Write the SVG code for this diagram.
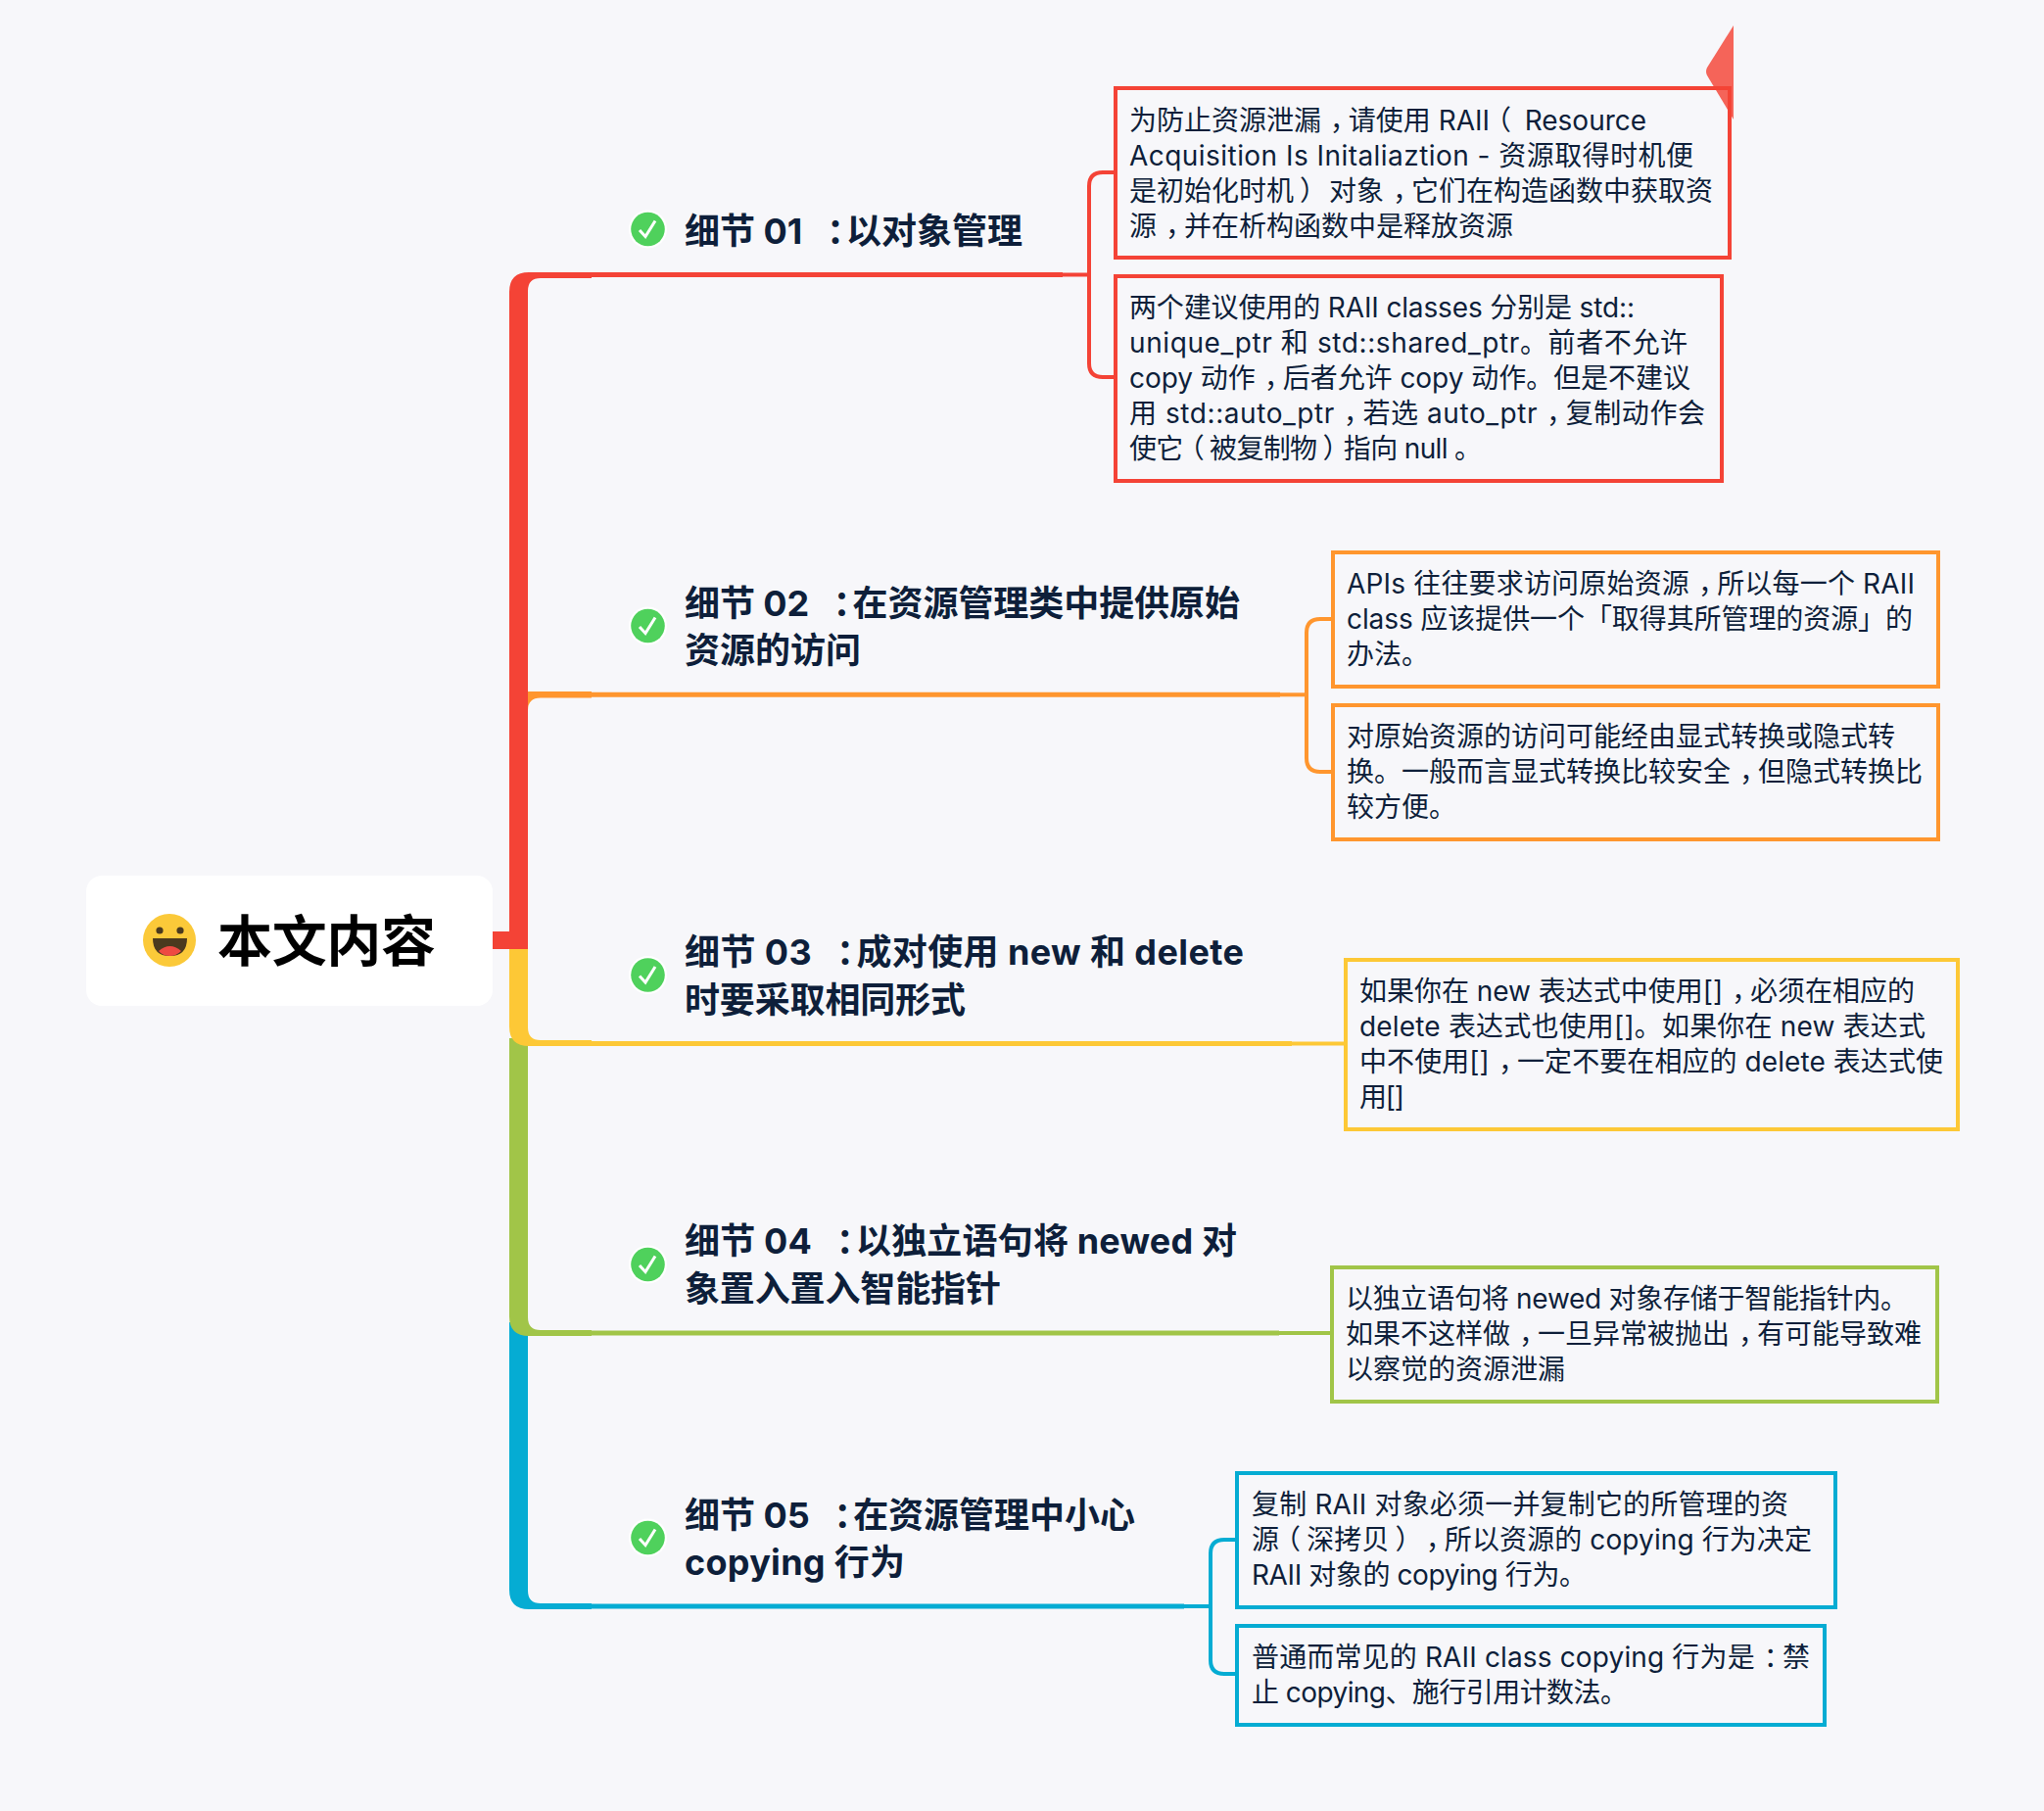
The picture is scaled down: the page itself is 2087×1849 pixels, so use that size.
<svg xmlns="http://www.w3.org/2000/svg" width="2087" height="1849" viewBox="0 0 2087 1849">
<style>
text{font-family:Inter,"Noto Sans CJK SC","Noto Sans",sans-serif;fill:#0E1F3A}
.b{font-size:28px}
.h{font-size:36px;font-weight:700}
.t{font-size:56px;font-weight:700;fill:#000;font-family:"Noto Sans CJK SC",sans-serif}
.p{font-feature-settings:"halt"}
.box{fill:none;stroke-width:4}
.ln{fill:none;stroke-width:4}
.br{fill:none;stroke-width:5}
.end{fill:none;stroke-width:4}
</style>
<defs>
<symbol id="check" viewBox="-20 -20 40 40" width="40" height="40" overflow="visible">
<circle r="19.5" fill="#fff"/><circle r="17.3" fill="#4FD15C"/>
<path d="M-8.500,1L-2.500,7.500L7.500,-8.500" fill="none" stroke="#fff" stroke-width="3"/>
</symbol>
</defs>
<rect width="2087" height="1849" fill="#F7F7FA"/>
<g id="connectors">
<g id="branch-blue">
<path fill="#05ACD3" d="M520,1350V1623Q520,1643 540,1643H604V1637H552Q539,1637 539,1624V1350Z"/>
<path class="br" stroke="#05ACD3" d="M600,1640H1209"/>
<path class="end" stroke="#05ACD3" d="M1209,1640H1236"/>
<path class="ln" stroke="#05ACD3" d="M1263,1572H1250Q1236,1572 1236,1586V1695Q1236,1709 1250,1709H1263"/>
</g>
<g id="branch-green">
<path fill="#A1C548" d="M520,1060V1344Q520,1364 540,1364H604V1358H552Q539,1358 539,1345V1060Z"/>
<path class="br" stroke="#A1C548" d="M600,1361H1306"/>
<path class="end" stroke="#A1C548" d="M1306,1361H1360"/>
</g>
<g id="branch-yellow">
<path fill="#FDC836" d="M520,965V1048Q520,1068 540,1068H604V1062H552Q539,1062 539,1049V965Z"/>
<path class="br" stroke="#FDC836" d="M600,1065.500H1319"/>
<path class="end" stroke="#FDC836" d="M1319,1065.500H1374"/>
</g>
<g id="branch-orange">
<path fill="#FF962E" d="M530,706H604V712.500H552Q539,712.500 539,725V760H530Z"/>
<path class="br" stroke="#FF962E" d="M600,709.300H1307"/>
<path class="end" stroke="#FF962E" d="M1307,709.300H1334"/>
<path class="ln" stroke="#FF962E" d="M1360,632H1348Q1334,632 1334,646V774Q1334,788 1348,788H1360"/>
</g>
<g id="branch-red">
<path fill="#F44336" d="M503,951H520V298Q520,278 540,278H604V284H552Q539,284 539,297V969H503Z"/>
<path class="br" stroke="#F44336" d="M600,280.500H1085"/>
<path class="end" stroke="#F44336" d="M1085,280.500H1112"/>
<path class="ln" stroke="#F44336" d="M1139,176H1126Q1112,176 1112,190V371Q1112,385 1126,385H1139"/>
</g>
</g>
<g id="root">
<rect x="88" y="894" width="415" height="133" rx="16" fill="#fff"/>
<circle cx="173" cy="960" r="27" fill="#FBC939"/>
<circle cx="163" cy="950" r="3.600" fill="#4B3A1E"/><circle cx="184" cy="950" r="3.600" fill="#4B3A1E"/>
<path d="M156,958H191Q191,976 173.500,976Q156,976 156,958Z" fill="#4B3A1E"/>
<path d="M162,971Q173.500,961 185,971Q180,976 173.500,976Q166,976 162,971Z" fill="#EE4B42"/>
<text class="t" x="222" y="981" textLength="223">本文内容</text>
</g>
<g id="topic-1"><use href="#check" x="641.500" y="214"/>
<text class="h" x="699" y="249" textLength="345">细节 01 <tspan class="p" dx="16">：</tspan><tspan dx="2">以</tspan>对象管理</text></g>
<g id="topic-2"><use href="#check" x="641.500" y="619"/>
<text class="h" x="699" y="629" textLength="567">细节 02 <tspan class="p" dx="16">：</tspan><tspan dx="2">在</tspan>资源管理类中提供原始</text>
<text class="h" x="699" y="677" textLength="180">资源的访问</text></g>
<g id="topic-3"><use href="#check" x="641.500" y="975.500"/>
<text class="h" x="699" y="985" textLength="571">细节 03 <tspan class="p" dx="16">：</tspan><tspan dx="2">成</tspan>对使用 new 和 delete</text>
<text class="h" x="699" y="1034" textLength="287">时要采取相同形式</text></g>
<g id="topic-4"><use href="#check" x="641.500" y="1271"/>
<text class="h" x="699" y="1280" textLength="564">细节 04 <tspan class="p" dx="16">：</tspan><tspan dx="2">以</tspan>独立语句将 newed 对</text>
<text class="h" x="699" y="1329" textLength="323">象置入置入智能指针</text></g>
<g id="topic-5"><use href="#check" x="641.500" y="1550"/>
<text class="h" x="699" y="1560" textLength="460">细节 05 <tspan class="p" dx="16">：</tspan><tspan dx="2">在</tspan>资源管理中小心</text>
<text class="h" x="699" y="1608" textLength="225">copying 行为</text></g>
<g id="detail-1-1"><rect class="box" stroke="#F44336" x="1139" y="90" width="627" height="173"/>
<text class="b" x="1153" y="133" textLength="528">为防止资源泄漏<tspan class="p" dx="9">，</tspan><tspan dx="5">请</tspan>使用 RAII<tspan class="p" dx="8">（</tspan><tspan dx="6"> </tspan>Resource</text>
<text class="b" x="1153" y="169" textLength="576">Acquisition Is Initaliaztion - 资源取得时机便</text>
<text class="b" x="1153" y="205" textLength="596">是初始化时机<tspan class="p" dx="6">）</tspan><tspan dx="8"> </tspan>对象<tspan class="p" dx="9">，</tspan><tspan dx="5">它</tspan>们在构造函数中获取资</text>
<text class="b" x="1153" y="241" textLength="392">源<tspan class="p" dx="9">，</tspan><tspan dx="5">并</tspan>在析构函数中是释放资源</text></g>
<g id="detail-1-2"><rect class="box" stroke="#F44336" x="1139" y="282" width="619" height="209"/>
<text class="b" x="1153" y="324" textLength="516">两个建议使用的 RAII classes 分别是 std::</text>
<text class="b" x="1153" y="360" textLength="570">unique_ptr 和 std::shared_ptr。前者不允许</text>
<text class="b" x="1153" y="396" textLength="573">copy 动作<tspan class="p" dx="9">，</tspan><tspan dx="5">后</tspan>者允许 copy 动作。但是不建议</text>
<text class="b" x="1153" y="432" textLength="588">用 std::auto_ptr<tspan class="p" dx="9">，</tspan><tspan dx="5">若</tspan>选 auto_ptr<tspan class="p" dx="9">，</tspan><tspan dx="5">复</tspan>制动作会</text>
<text class="b" x="1153" y="468" textLength="360">使它<tspan class="p" dx="8">（</tspan><tspan dx="6">被</tspan>复制物<tspan class="p" dx="6">）</tspan><tspan dx="8">指</tspan>向 null 。</text></g>
<g id="detail-2-1"><rect class="box" stroke="#FF962E" x="1361" y="564" width="618" height="137"/>
<text class="b" x="1375" y="606" textLength="580">APIs 往往要求访问原始资源<tspan class="p" dx="9">，</tspan><tspan dx="5">所</tspan>以每一个 RAII</text>
<text class="b" x="1375" y="642" textLength="578">class 应该提供一个「取得其所管理的资源」的</text>
<text class="b" x="1375" y="678">办法。</text></g>
<g id="detail-2-2"><rect class="box" stroke="#FF962E" x="1361" y="720" width="618" height="137"/>
<text class="b" x="1375" y="762" textLength="560">对原始资源的访问可能经由显式转换或隐式转</text>
<text class="b" x="1375" y="798" textLength="588">换。一般而言显式转换比较安全<tspan class="p" dx="9">，</tspan><tspan dx="5">但</tspan>隐式转换比</text>
<text class="b" x="1375" y="834">较方便。</text></g>
<g id="detail-3-1"><rect class="box" stroke="#FDC836" x="1374" y="980" width="625" height="173"/>
<text class="b" x="1388" y="1022" textLength="567">如果你在 new 表达式中使用[]<tspan class="p" dx="9">，</tspan><tspan dx="5">必</tspan>须在相应的</text>
<text class="b" x="1388" y="1058" textLength="578">delete 表达式也使用[]。如果你在 new 表达式</text>
<text class="b" x="1388" y="1094" textLength="596">中不使用[]<tspan class="p" dx="9">，</tspan><tspan dx="5">一</tspan>定不要在相应的 delete 表达式使</text>
<text class="b" x="1388" y="1130" textLength="46">用[]</text></g>
<g id="detail-4-1"><rect class="box" stroke="#A1C548" x="1360" y="1294" width="618" height="137"/>
<text class="b" x="1374" y="1336" textLength="574">以独立语句将 newed 对象存储于智能指针内。</text>
<text class="b" x="1374" y="1372" textLength="588">如果不这样做<tspan class="p" dx="9">，</tspan><tspan dx="5">一</tspan>旦异常被抛出<tspan class="p" dx="9">，</tspan><tspan dx="5">有</tspan>可能导致难</text>
<text class="b" x="1374" y="1408" textLength="224">以察觉的资源泄漏</text></g>
<g id="detail-5-1"><rect class="box" stroke="#05ACD3" x="1263" y="1504" width="611" height="137"/>
<text class="b" x="1278" y="1546" textLength="548">复制 RAII 对象必须一并复制它的所管理的资</text>
<text class="b" x="1278" y="1582" textLength="572">源<tspan class="p" dx="8">（</tspan><tspan dx="6">深</tspan>拷贝<tspan class="p" dx="6">）</tspan><tspan class="p" dx="17">，</tspan><tspan dx="5">所</tspan>以资源的 copying 行为决定</text>
<text class="b" x="1278" y="1618" textLength="342">RAII 对象的 copying 行为。</text></g>
<g id="detail-5-2"><rect class="box" stroke="#05ACD3" x="1263" y="1660" width="600" height="101"/>
<text class="b" x="1278" y="1702" textLength="570">普通而常见的 RAII class copying 行为是<tspan class="p" dx="9">：</tspan><tspan dx="5">禁</tspan></text>
<text class="b" x="1278" y="1738" textLength="384">止 copying、施行引用计数法。</text></g>
<path id="flag" d="M1770,26L1743,69Q1741,73 1743,77L1770,122Z" fill="#F44336" fill-opacity=".82"/>
</svg>
